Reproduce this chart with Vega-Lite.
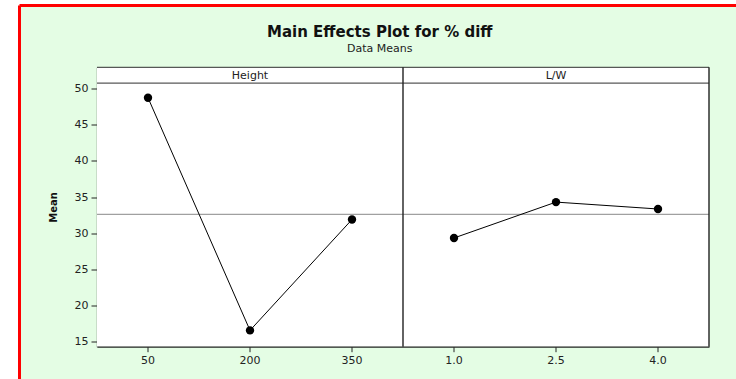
{
  "$schema": "https://vega.github.io/schema/vega-lite/v6.json",
  "width": 716.5,
  "height": 373.5,
  "autosize": {"type": "none"},
  "padding": {"left": 19.5, "top": 5.5, "right": 0, "bottom": 0},
  "background": "white",
  "title": {
    "text": "Main Effects Plot for % diff",
    "subtitle": "Data Means",
    "anchor": "middle",
    "offset": -48,
    "dx": 2,
    "font": "DejaVu Sans",
    "fontSize": 15,
    "fontWeight": "bold",
    "color": "#111111",
    "subtitleFont": "DejaVu Sans",
    "subtitleFontSize": 11,
    "subtitleColor": "#222222",
    "subtitlePadding": 3
  },
  "config": {
    "view": {"fill": "#e4fde4", "stroke": "#ff0000", "strokeWidth": 3, "strokeDash": [716.5, 1090, 373.5, 0]},
    "axis": {"labelFont": "DejaVu Sans", "labelFontSize": 11, "labelColor": "#222222", "titleFont": "DejaVu Sans", "grid": false}
  },
  "data": {
    "values": [
      {"factor": "Height", "level": "50", "mean": 48.7},
      {"factor": "Height", "level": "200", "mean": 16.6},
      {"factor": "Height", "level": "350", "mean": 31.9},
      {"factor": "L/W", "level": "1.0", "mean": 29.35},
      {"factor": "L/W", "level": "2.5", "mean": 34.3},
      {"factor": "L/W", "level": "4.0", "mean": 33.35}
    ]
  },
  "layer": [
    {
      "mark": {"type": "rect", "fill": "white", "strokeWidth": 0},
      "encoding": {
        "x": {
          "field": "level", "type": "nominal", "title": null,
          "scale": {"type": "band", "domain": ["50", "200", "350", "1.0", "2.5", "4.0"], "range": [77.5, 689.5], "paddingInner": 0, "paddingOuter": 0},
          "axis": {"orient": "bottom", "offset": -32.3, "labelAngle": 0, "domainColor": "#222222", "domainWidth": 1.3, "tickColor": "#222222", "tickSize": 5, "labelPadding": 3, "title": null}
        },
        "y": {
          "datum": 14.35, "type": "quantitative", "title": "Mean",
          "scale": {"domain": [14.35, 52.9], "range": [341.2, 61.8], "nice": false, "zero": false},
          "axis": {"orient": "left", "offset": -77.5, "values": [15, 20, 25, 30, 35, 40, 45, 50], "domainColor": "#333333", "domainWidth": 1.3, "tickColor": "#222222", "tickSize": 6, "labelPadding": 3, "title": "Mean", "titleFont": "DejaVu Sans", "titleFontSize": 10, "titleFontWeight": "bold", "titleColor": "#111111", "titlePadding": 16}
        },
        "y2": {"datum": 52.9}
      }
    },
    {
      "mark": {"type": "tick", "orient": "horizontal", "size": 102, "thickness": 1.2, "color": "#111111"},
      "encoding": {
        "x": {"field": "level", "type": "nominal", "title": null},
        "y": {"datum": 52.9, "type": "quantitative", "title": "Mean"}
      }
    },
    {
      "mark": {"type": "tick", "orient": "horizontal", "size": 102, "thickness": 1.2, "color": "#111111"},
      "encoding": {
        "x": {"field": "level", "type": "nominal", "title": null},
        "y": {"datum": 50.73, "type": "quantitative", "title": "Mean"}
      }
    },
    {
      "mark": {"type": "tick", "orient": "horizontal", "size": 102, "thickness": 1.2, "color": "#777777"},
      "encoding": {
        "x": {"field": "level", "type": "nominal", "title": null},
        "y": {"datum": 32.6, "type": "quantitative", "title": "Mean"}
      }
    },
    {
      "transform": [{"filter": "datum.level == '1.0'"}],
      "mark": {"type": "rule", "color": "#222222", "strokeWidth": 1.4},
      "encoding": {
        "x": {"field": "level", "type": "nominal", "bandPosition": 0, "title": null},
        "y": {"datum": 14.35, "type": "quantitative", "title": "Mean"},
        "y2": {"datum": 52.9}
      }
    },
    {
      "transform": [{"filter": "datum.level == '4.0'"}],
      "mark": {"type": "rule", "color": "#222222", "strokeWidth": 1.4},
      "encoding": {
        "x": {"field": "level", "type": "nominal", "bandPosition": 1, "title": null},
        "y": {"datum": 14.35, "type": "quantitative", "title": "Mean"},
        "y2": {"datum": 52.9}
      }
    },
    {
      "mark": {"type": "line", "color": "black", "strokeWidth": 1},
      "encoding": {
        "x": {"field": "level", "type": "nominal", "title": null},
        "y": {"field": "mean", "type": "quantitative", "title": "Mean"},
        "detail": {"field": "factor"},
        "order": {"value": null}
      }
    },
    {
      "mark": {"type": "point", "shape": "circle", "filled": true, "size": 70, "color": "black", "opacity": 1},
      "encoding": {
        "x": {"field": "level", "type": "nominal", "title": null},
        "y": {"field": "mean", "type": "quantitative", "title": "Mean"}
      }
    },
    {
      "transform": [{"filter": "datum.level == '200' || datum.level == '2.5'"}],
      "mark": {"type": "text", "font": "DejaVu Sans", "fontSize": 11, "color": "#222222", "baseline": "middle", "align": "center"},
      "encoding": {
        "x": {"field": "level", "type": "nominal", "title": null},
        "y": {"datum": 51.65, "type": "quantitative", "title": "Mean"},
        "text": {"field": "factor"}
      }
    }
  ]
}
